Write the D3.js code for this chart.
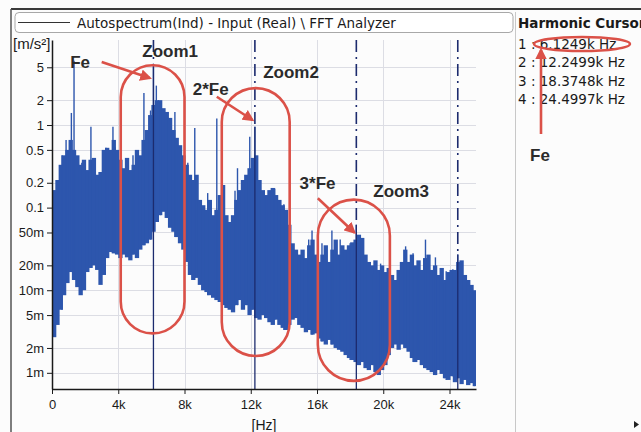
<!DOCTYPE html>
<html lang="en">
<head>
<meta charset="utf-8">
<title>Autospectrum - Harmonic Cursor</title>
<script src="https://cdnjs.cloudflare.com/ajax/libs/d3/7.8.5/d3.min.js"></script>
<style>
  body { margin: 0; background: #fcfcfc; }
  svg { display: block; font-family: "Liberation Sans", Arial, sans-serif; }
  .axis text { font-size: 13px; fill: #1a1a1a; }
  .axis path, .axis line { stroke: #1a1a1a; }
  .note { font-weight: bold; font-size: 17px; fill: #2b2b2b; }
  .panel { font-family: "DejaVu Sans", Verdana, sans-serif; font-size: 13.5px; fill: #1a1a1a; }
</style>
</head>
<body>
<svg id="chart" width="641" height="432"></svg>
<script>
// spectrum, 0.2 kHz bins from 0 to 25.6 kHz, in m/s^2
var binWidth = 0.2;
var bodyTop = [
  0.163, 0.216, 0.33, 0.43, 0.50, 0.66, 0.50, 0.43, 0.33, 0.38,
  0.285, 0.38, 0.40, 0.25, 0.27, 0.50, 0.53, 0.50, 0.66, 0.50,
  0.38, 0.30, 0.40, 0.285, 0.33, 0.50, 0.43, 0.66, 0.87, 1.32,
  1.75, 2.0, 2.0, 1.6, 1.44, 1.22, 0.87, 0.70, 0.57, 0.43,
  0.33, 0.25, 0.216, 0.25, 0.124, 0.107, 0.094, 0.124, 0.081, 0.094,
  0.142, 0.188, 0.081, 0.067, 0.081, 0.124, 0.163, 0.216, 0.25, 0.30,
  0.40, 0.43, 0.216, 0.163, 0.142, 0.163, 0.173, 0.142, 0.124, 0.107,
  0.094, 0.062, 0.037, 0.031, 0.027, 0.031, 0.0245, 0.035, 0.041, 0.027,
  0.022, 0.027, 0.035, 0.022, 0.031, 0.041, 0.027, 0.035, 0.031, 0.035,
  0.038, 0.041, 0.047, 0.043, 0.027, 0.022, 0.020, 0.023, 0.0176, 0.020,
  0.0166, 0.0186, 0.0153, 0.0133, 0.0176, 0.022, 0.031, 0.022, 0.027, 0.020,
  0.023, 0.0176, 0.0245, 0.027, 0.0176, 0.020, 0.0153, 0.0186, 0.0133, 0.0166,
  0.0176, 0.0176, 0.022, 0.023, 0.0153, 0.0133, 0.0116, 0.0100
];
var bodyFloor = [
  0.0027, 0.0038, 0.0058, 0.0087, 0.0122, 0.0166, 0.0133, 0.0109, 0.0087, 0.0100,
  0.0166, 0.0186, 0.020, 0.0176, 0.0116, 0.0153, 0.0245, 0.029, 0.028, 0.027,
  0.0245, 0.027, 0.025, 0.023, 0.027, 0.0245, 0.031, 0.035, 0.037, 0.041,
  0.051, 0.067, 0.081, 0.089, 0.075, 0.057, 0.051, 0.044, 0.037, 0.031,
  0.022, 0.0153, 0.0133, 0.0141, 0.0116, 0.0100, 0.0095, 0.0087, 0.0081, 0.0076,
  0.0072, 0.0066, 0.0061, 0.0058, 0.0054, 0.0066, 0.0076, 0.0058, 0.0066, 0.0050,
  0.0058, 0.0046, 0.0044, 0.0050, 0.0046, 0.0041, 0.0038, 0.0044, 0.0038, 0.0035,
  0.0033, 0.0038, 0.0044, 0.0046, 0.0038, 0.0035, 0.0031, 0.0033, 0.0029, 0.0030,
  0.0026, 0.0024, 0.0022, 0.0025, 0.0022, 0.0020, 0.0019, 0.0018, 0.00164, 0.00151,
  0.00143, 0.00135, 0.00124, 0.00135, 0.00114, 0.00108, 0.00124, 0.00102, 0.00094, 0.00108,
  0.00124, 0.00164, 0.0020, 0.0022, 0.0019, 0.0022, 0.0020, 0.0018, 0.00151, 0.00135,
  0.00143, 0.00124, 0.00114, 0.00108, 0.00102, 0.00094, 0.00108, 0.00097, 0.00086, 0.00082,
  0.00091, 0.00077, 0.00086, 0.00073, 0.00082, 0.00071, 0.00075, 0.00069
];
// single tall lines above the dense part
var spikeFreq = [0.60, 0.85, 1.17, 1.33, 1.80, 2.35, 3.26, 3.68, 3.80, 4.89, 5.55, 5.95, 6.125, 6.30, 6.55,
  6.94, 7.42, 8.2, 8.62, 9.4, 9.95, 11.05, 11.2, 11.75, 11.94, 12.07, 12.25, 12.85, 13.45, 14.0,
  15.5, 15.7, 16.3, 16.9, 17.4, 18.0, 18.37, 19.4, 19.84, 21.35, 21.8, 22.1, 22.55, 23.15, 23.7,
  23.8, 24.2, 24.5, 25.5];
var spikeLevel = [0.43, 0.66, 1.4, 6.0, 0.35, 0.95, 0.53, 0.95, 0.54, 0.43, 2.44, 1.5, 5.5, 3.0, 1.9,
  1.4, 1.44, 0.35, 0.92, 0.15, 1.2, 0.16, 0.30, 0.23, 0.72, 0.285, 0.95, 0.135, 0.17, 0.11,
  0.041, 0.053, 0.037, 0.053, 0.041, 0.037, 0.062, 0.016, 0.021, 0.034, 0.028, 0.019, 0.041, 0.025, 0.012,
  0.017, 0.018, 0.027, 0.0093];

var harmonicFreq = [6.1249, 12.2499, 18.3748, 24.4997];
var harmonicPeak = [5.5, 0.95, 0.062, 0.027];
var harmonicLabels = ["1 : 6.1249k Hz", "2 : 12.2499k Hz", "3 : 18.3748k Hz", "4 : 24.4997k Hz"];

var yTicks = [5, 2, 1, 0.5, 0.2, 0.1, 0.05, 0.02, 0.01, 0.005, 0.002, 0.001];
var yTickLabels = ["5", "2", "1", "0.5", "0.2", "0.1", "50m", "20m", "10m", "5m", "2m", "1m"];
var xTicks = [0, 4, 8, 12, 16, 20, 24];
var xTickLabels = ["0", "4k", "8k", "12k", "16k", "20k", "24k"];

// red markup, in kHz and m/s^2
var zoomFrom = [4.15, 10.25, 16.05];
var zoomTo = [8.0, 14.35, 20.4];
var zoomTop = [5.3, 2.8, 0.125];
var zoomBottom = [0.003, 0.0016, 0.0008];
var noteText = ["Fe", "Zoom1", "2*Fe", "Zoom2", "3*Fe", "Zoom3"];
var noteFreq = [1.1, 5.45, 8.5, 12.75, 14.95, 19.4];
var noteLevel = [4.9, 6.7, 2.3, 3.7, 0.17, 0.134];
var arrowFrom = [[3.0, 5.8], [9.95, 2.2], [16.05, 0.13]];
var arrowTo = [[5.9, 3.7], [12.1, 1.15], [18.25, 0.05]];

var blue = "#2d56ad", navy = "#1c2b6e", red = "#db5148";

var svg = d3.select("#chart");
var plotLeft = 52, plotRight = 476, plotTop = 40, plotBottom = 389;

var x = d3.scaleLinear().domain([0, 25.6]).range([plotLeft, plotRight]);
var y = d3.scaleLog().domain([0.000637, 10.7]).range([plotBottom, plotTop]);

// frame of the analyzer window
svg.append("rect").attr("width", 641).attr("height", 432).attr("fill", "#fcfcfc");
svg.append("line").attr("x1", 11).attr("x2", 641).attr("y1", 9).attr("y2", 9)
    .attr("stroke", "#3a3a3a").attr("stroke-width", 2);
svg.append("line").attr("x1", 11).attr("x2", 11).attr("y1", 9).attr("y2", 432)
    .attr("stroke", "#555").attr("stroke-width", 1.5);
svg.append("line").attr("x1", 515.5).attr("x2", 515.5).attr("y1", 12).attr("y2", 432)
    .attr("stroke", "#c8c8c8");

svg.append("rect").attr("x", 15).attr("y", 12.5).attr("width", 498).attr("height", 20)
    .attr("rx", 4).attr("fill", "#fff").attr("stroke", "#a8a8a8");
svg.append("line").attr("x1", 18).attr("x2", 70).attr("y1", 22.5).attr("y2", 22.5)
    .attr("stroke", "#333");
svg.append("text").attr("class", "panel").attr("x", 77).attr("y", 27.5)
    .attr("font-size", 13.9)
    .text("Autospectrum(Ind) - Input (Real) \\ FFT Analyzer");

// grid
var grid = svg.append("g");
grid.selectAll("line.h").data(yTicks).join("line")
    .attr("x1", plotLeft).attr("x2", plotRight)
    .attr("y1", d => Math.round(y(d)) + 0.5).attr("y2", d => Math.round(y(d)) + 0.5)
    .attr("stroke", "#dcdde4");
grid.selectAll("line.v").data(xTicks.slice(1)).join("line")
    .attr("y1", plotTop).attr("y2", plotBottom)
    .attr("x1", d => Math.round(x(d)) + 0.5).attr("x2", d => Math.round(x(d)) + 0.5)
    .attr("stroke", "#dcdde4");

// spectrum
svg.append("clipPath").attr("id", "plotClip").append("rect")
    .attr("x", plotLeft).attr("y", plotTop)
    .attr("width", plotRight - plotLeft).attr("height", plotBottom - plotTop);
var plot = svg.append("g").attr("clip-path", "url(#plotClip)");

var bins = d3.range(bodyTop.length);
plot.selectAll("rect.bin").data(bins).join("rect")
    .attr("class", "bin")
    .attr("x", i => x(i * binWidth))
    .attr("width", x(binWidth) - x(0) + 1)
    .attr("y", i => y(bodyTop[i]))
    .attr("height", i => y(bodyFloor[i]) - y(bodyTop[i]))
    .attr("fill", blue);

plot.selectAll("line.spike").data(spikeFreq).join("line")
    .attr("class", "spike")
    .attr("x1", d => x(d)).attr("x2", d => x(d))
    .attr("y1", (d, i) => y(spikeLevel[i]))
    .attr("y2", d => y(bodyFloor[Math.min(bodyFloor.length - 1, Math.floor(d / binWidth))]))
    .attr("stroke", blue).attr("stroke-width", 1.4);

// harmonic cursors: dash-dot above the peak, solid below it
plot.selectAll("line.cursorTop").data(harmonicFreq).join("line")
    .attr("x1", d => x(d)).attr("x2", d => x(d))
    .attr("y1", plotTop).attr("y2", (d, i) => y(harmonicPeak[i]))
    .attr("stroke", navy).attr("stroke-width", 1.6)
    .attr("stroke-dasharray", "12,5,2,5");
plot.selectAll("line.cursorLow").data(harmonicFreq).join("line")
    .attr("x1", d => x(d)).attr("x2", d => x(d))
    .attr("y1", (d, i) => y(harmonicPeak[i])).attr("y2", plotBottom)
    .attr("stroke", navy).attr("stroke-width", 1.3);

// axes
svg.append("g").attr("class", "axis")
    .attr("transform", `translate(${plotLeft},0)`)
    .call(d3.axisLeft(y).tickValues(yTicks).tickSize(5).tickSizeOuter(0)
        .tickFormat((d, i) => yTickLabels[i]))
    .call(g => g.select(".domain").attr("stroke-width", 1.5))
    .selectAll("text").attr("font-family", "Liberation Sans, Arial, sans-serif").attr("font-size", 13.5);

svg.append("g").attr("class", "axis")
    .attr("transform", `translate(0,${plotBottom})`)
    .call(d3.axisBottom(x).tickValues(xTicks).tickSize(5).tickSizeOuter(0)
        .tickFormat((d, i) => xTickLabels[i]))
    .call(g => g.select(".domain").attr("stroke-width", 1.5))
    .selectAll("text").attr("font-family", "Liberation Sans, Arial, sans-serif")
    .attr("font-size", 14).attr("dy", "0.9em");

svg.append("text").attr("x", 13).attr("y", 49).attr("font-size", 15).attr("fill", "#1a1a1a")
    .text("[m/s²]");
svg.append("text").attr("x", (plotLeft + plotRight) / 2).attr("y", 430).attr("font-size", 14)
    .attr("text-anchor", "middle").attr("fill", "#1a1a1a").text("[Hz]");

// red markup
var marks = svg.append("g");
marks.append("defs").append("marker").attr("id", "head")
    .attr("viewBox", "0 0 10 10").attr("refX", 8).attr("refY", 5)
    .attr("markerWidth", 4.5).attr("markerHeight", 4.5).attr("orient", "auto")
    .append("path").attr("d", "M0,0 L10,5 L0,10 z").attr("fill", red);

marks.selectAll("rect.zoom").data(zoomFrom).join("rect")
    .attr("x", d => x(d))
    .attr("y", (d, i) => y(zoomTop[i]))
    .attr("width", (d, i) => x(zoomTo[i]) - x(d))
    .attr("height", (d, i) => y(zoomBottom[i]) - y(zoomTop[i]))
    .attr("rx", (d, i) => (x(zoomTo[i]) - x(d)) / 2)
    .attr("fill", "none").attr("stroke", red).attr("stroke-width", 2.6);

marks.selectAll("line.arrow").data(arrowFrom).join("line")
    .attr("x1", d => x(d[0])).attr("y1", d => y(d[1]))
    .attr("x2", (d, i) => x(arrowTo[i][0])).attr("y2", (d, i) => y(arrowTo[i][1]))
    .attr("stroke", red).attr("stroke-width", 2.6).attr("marker-end", "url(#head)");

marks.selectAll("text.note").data(noteText).join("text")
    .attr("class", "note")
    .attr("x", (d, i) => x(noteFreq[i])).attr("y", (d, i) => y(noteLevel[i]))
    .text(d => d);

// harmonic cursor panel
var panel = svg.append("g");
panel.append("text").attr("class", "panel").attr("x", 518).attr("y", 27.5)
    .attr("font-weight", "bold").attr("font-size", 15).text("Harmonic Cursor");
panel.selectAll("text.row").data(harmonicLabels).join("text")
    .attr("class", "panel row").attr("x", 518).attr("y", (d, i) => 49 + i * 18.4)
    .text(d => d);
panel.append("ellipse").attr("cx", 582).attr("cy", 44).attr("rx", 48).attr("ry", 7)
    .attr("fill", "none").attr("stroke", red).attr("stroke-width", 2.4);
panel.append("line").attr("x1", 541).attr("y1", 134).attr("x2", 541).attr("y2", 50)
    .attr("stroke", red).attr("stroke-width", 2.6).attr("marker-end", "url(#head)");
panel.append("text").attr("class", "note").attr("x", 530).attr("y", 161).text("Fe");
panel.append("path").attr("d", "M634,421 L639,424.5 L634,428 z").attr("fill", "#222");
</script>
</body>
</html>
